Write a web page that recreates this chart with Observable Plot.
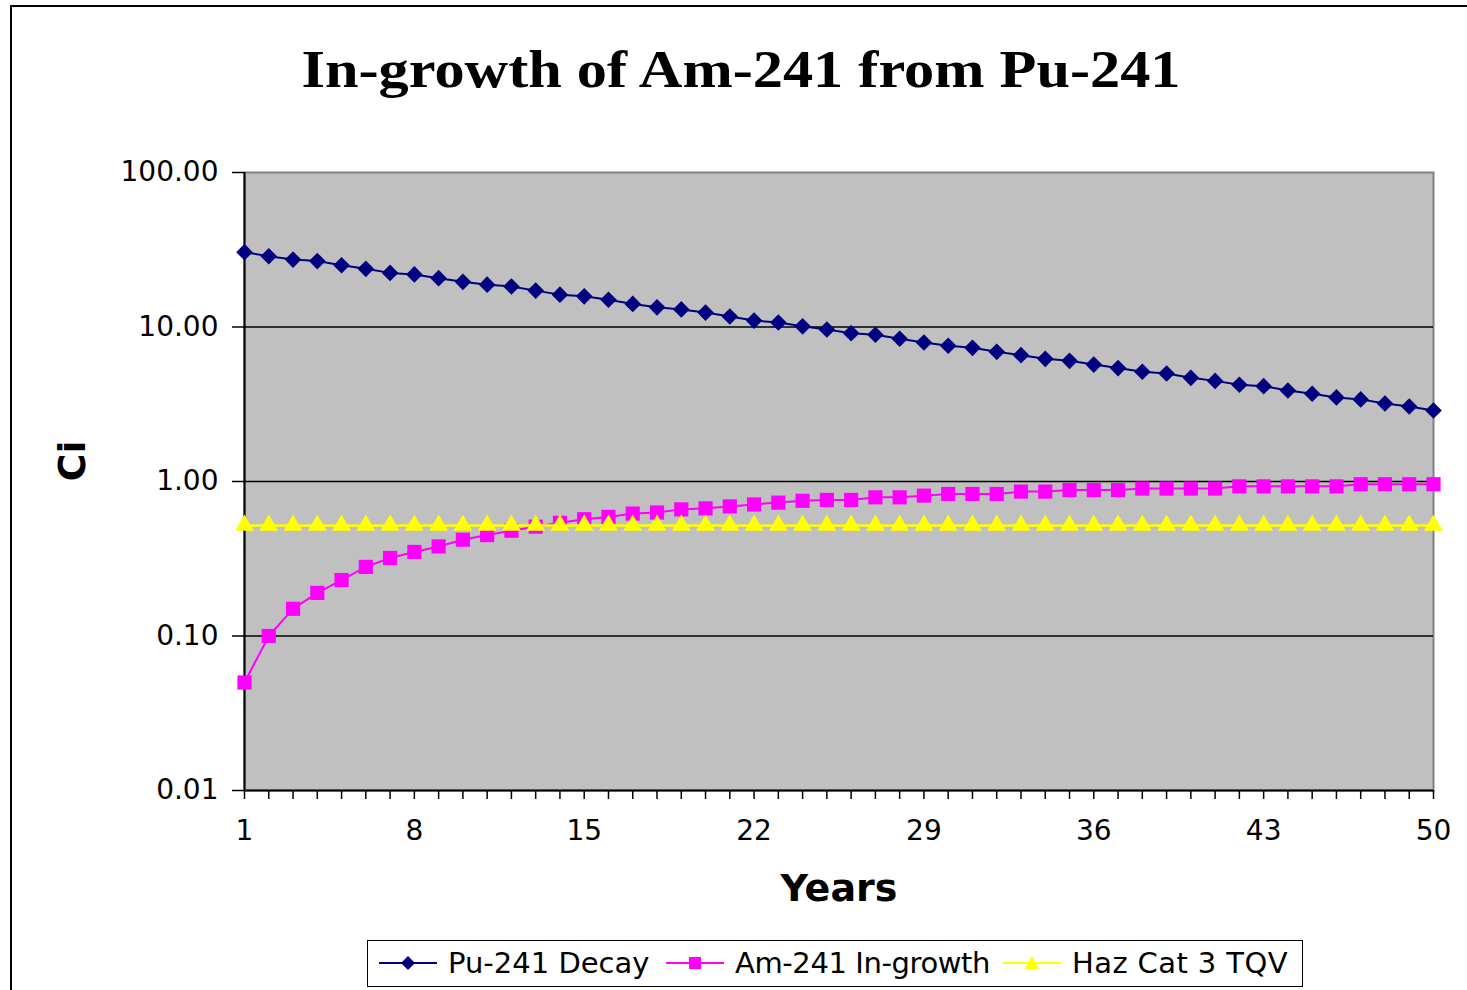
<!DOCTYPE html>
<html>
<head>
<meta charset="utf-8">
<script src="https://cdn.jsdelivr.net/npm/d3@7"></script>
<script src="https://cdn.jsdelivr.net/npm/@observablehq/plot@0.6"></script>
<style>
  html, body { margin: 0; padding: 0; background: #fff; }
  body { width: 1467px; height: 990px; position: relative; overflow: hidden; }
  #frame { position: absolute; left: 10px; top: 5px; width: 1470px; height: 1000px;
           border-top: 2px solid #000; border-left: 2px solid #000; box-sizing: border-box; }
  #title { position: absolute; left: 741px; top: 44px; white-space: nowrap;
           font-family: "Liberation Serif", "Times New Roman", serif; font-weight: bold;
           font-size: 52px; line-height: 52px; color: #000;
           transform: translateX(-50%) scaleX(1.16); transform-origin: center; }
  #chart { position: absolute; left: 0; top: 120px; }
  #legend { position: absolute; left: 367px; top: 940px; width: 936px; height: 47px;
            border: 1.5px solid #000; box-sizing: border-box; background: #fff;
            font-family: "DejaVu Sans", sans-serif; font-size: 29px; color: #000; }
  .item { position: absolute; top: 0; height: 44px; display: flex; align-items: center; white-space: nowrap; }
  .item svg { margin-right: 11px; }
</style>
</head>
<body>
<div id="frame"></div>
<div id="title">In-growth of Am-241 from Pu-241</div>
<div id="chart"></div>
<div id="legend"></div>
<script>
// ---- data ----
const years = [1,2,3,4,5,6,7,8,9,10,11,12,13,14,15,16,17,18,19,20,21,22,23,24,25,
               26,27,28,29,30,31,32,33,34,35,36,37,38,39,40,41,42,43,44,45,46,47,48,49,50];
const pu241Decay = [30.5, 28.7, 27.3, 26.7, 25.1, 23.8, 22.4, 21.9, 20.7, 19.6,
                    18.8, 18.3, 17.2, 16.2, 15.8, 15.0, 14.1, 13.4, 13.0, 12.4,
                    11.7, 11.0, 10.7, 10.1, 9.63, 9.12, 8.91, 8.39, 7.94, 7.56,
                    7.33, 6.91, 6.57, 6.22, 6.04, 5.71, 5.42, 5.13, 5.00, 4.69,
                    4.48, 4.23, 4.14, 3.88, 3.70, 3.50, 3.40, 3.20, 3.06, 2.88];
const am241Ingrowth = [0.05, 0.10, 0.15, 0.19, 0.23, 0.28, 0.32, 0.35, 0.38, 0.42,
                       0.45, 0.48, 0.51, 0.54, 0.57, 0.59, 0.62, 0.63, 0.66, 0.67,
                       0.69, 0.71, 0.73, 0.75, 0.76, 0.76, 0.79, 0.79, 0.81, 0.83,
                       0.83, 0.83, 0.86, 0.86, 0.88, 0.88, 0.88, 0.90, 0.90, 0.90,
                       0.90, 0.93, 0.93, 0.93, 0.93, 0.93, 0.96, 0.96, 0.96, 0.96];
const hazCat3TQV = [0.52, 0.52, 0.52, 0.52, 0.52, 0.52, 0.52, 0.52, 0.52, 0.52,
                    0.52, 0.52, 0.52, 0.52, 0.52, 0.52, 0.52, 0.52, 0.52, 0.52,
                    0.52, 0.52, 0.52, 0.52, 0.52, 0.52, 0.52, 0.52, 0.52, 0.52,
                    0.52, 0.52, 0.52, 0.52, 0.52, 0.52, 0.52, 0.52, 0.52, 0.52,
                    0.52, 0.52, 0.52, 0.52, 0.52, 0.52, 0.52, 0.52, 0.52, 0.52];
const seriesNames = ["Pu-241 Decay", "Am-241 In-growth", "Haz Cat 3 TQV"];
const xTickLabels = [1, 8, 15, 22, 29, 36, 43, 50];
const yTickValues = [0.01, 0.1, 1, 10, 100];
const gridValues = [0.1, 1, 10];

// ---- tables ----
const pu = years.map((t, i) => ({year: t, value: pu241Decay[i]}));
const am = years.map((t, i) => ({year: t, value: am241Ingrowth[i]}));
const hz = years.map((t, i) => ({year: t, value: hazCat3TQV[i]}));

const NAVY = "#000080", MAGENTA = "#FF00FF", YELLOW = "#FFFF00";

const chart = Plot.plot({
  width: 1467, height: 800,
  marginLeft: 244, marginRight: 34, marginTop: 52, marginBottom: 130,
  x: {domain: [1, 50]},
  y: {type: "log", domain: [0.01, 100]},
  style: {fontFamily: "DejaVu Sans", fontSize: "28px", color: "black", background: "transparent", overflow: "visible"},
  marks: [
    Plot.frame({fill: "#C0C0C0"}),
    Plot.frame({stroke: "#808080", strokeWidth: 2}),
    Plot.ruleY(gridValues, {stroke: "black", strokeWidth: 1.5}),
    Plot.ruleX([1], {stroke: "black", strokeWidth: 2}),
    Plot.ruleY([0.01], {stroke: "black", strokeWidth: 2}),
    Plot.axisY(yTickValues, {tickSize: 12, tickPadding: 14, tickFormat: d3.format(".2f"), label: null, strokeWidth: 1.5}),
    Plot.axisX(years, {tickSize: 9, tickFormat: () => "", label: null, strokeWidth: 1.5}),
    Plot.axisX(xTickLabels, {tickSize: 0, tickPadding: 30, label: null}),
    Plot.text(["Years"], {text: d => d, frameAnchor: "bottom", dy: 98, fontSize: 38, fontWeight: "bold", lineAnchor: "middle"}),
    Plot.text(["Ci"], {text: d => d, frameAnchor: "left", dx: -172, rotate: -90, fontSize: 38, fontWeight: "bold", lineAnchor: "middle"}),
    Plot.line(pu, {x: "year", y: "value", stroke: NAVY, strokeWidth: 2}),
    Plot.dot(pu, {x: "year", y: "value", symbol: "diamond2", r: 7.5, fill: NAVY, stroke: "none"}),
    Plot.line(am, {x: "year", y: "value", stroke: MAGENTA, strokeWidth: 2}),
    Plot.dot(am, {x: "year", y: "value", symbol: "square", r: 8, fill: MAGENTA, stroke: "none"}),
    Plot.line(hz, {x: "year", y: "value", stroke: YELLOW, strokeWidth: 2.5}),
    Plot.dot(hz, {x: "year", y: "value", symbol: "triangle", r: 7, fill: YELLOW, stroke: "none"})
  ]
});
document.getElementById("chart").appendChild(chart);

// ---- legend ----
const legend = document.getElementById("legend");
const legendItems = [
  {name: seriesNames[0], color: NAVY, shape: "diamond", left: 11, spacing: 0},
  {name: seriesNames[1], color: MAGENTA, shape: "square", left: 298, spacing: -0.4},
  {name: seriesNames[2], color: YELLOW, shape: "triangle", left: 635, spacing: 0.4}
];
for (const it of legendItems) {
  const div = document.createElement("div");
  div.className = "item";
  div.style.left = it.left + "px";
  let marker = "";
  if (it.shape === "diamond") marker = `<path d="M29,1 L36,8 L29,15 L22,8 Z" fill="${it.color}"/>`;
  if (it.shape === "square") marker = `<rect x="23" y="2" width="12" height="12" fill="${it.color}"/>`;
  if (it.shape === "triangle") marker = `<path d="M29,1 L36,14 L22,14 Z" fill="${it.color}"/>`;
  div.innerHTML = `<svg width="58" height="16" viewBox="0 0 58 16"><line x1="0" y1="8" x2="58" y2="8" stroke="${it.color}" stroke-width="2"/>${marker}</svg><span style="letter-spacing:${it.spacing}px">${it.name}</span>`;
  legend.appendChild(div);
}
</script>
</body>
</html>
